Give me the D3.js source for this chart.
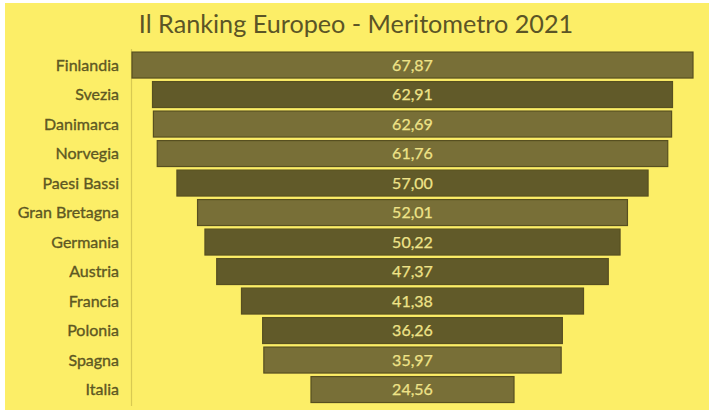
<!DOCTYPE html>
<html><head><meta charset="utf-8">
<script src="https://cdn.jsdelivr.net/npm/d3@7"></script>
<style>html,body{margin:0;padding:0;background:#fff;}svg{display:block;}</style>
</head><body>
<script>
const categories = ["Finlandia","Svezia","Danimarca","Norvegia","Paesi Bassi","Gran Bretagna","Germania","Austria","Francia","Polonia","Spagna","Italia"];
const values = [67.87,62.91,62.69,61.76,57.00,52.01,50.22,47.37,41.38,36.26,35.97,24.56];
const valueLabels = ["67,87","62,91","62,69","61,76","57,00","52,01","50,22","47,37","41,38","36,26","35,97","24,56"];
const title = "Il Ranking Europeo - Meritometro 2021";
const shade = ["l","d","l","l","d","l","d","d","d","d","l","l"];

const W = 709, H = 410;
const svg = d3.select("body").append("svg").attr("width", W).attr("height", H);
svg.append("rect").attr("x",5).attr("y",3).attr("width",W-5).attr("height",H-3).attr("fill","#fcee67");

const left = 132, right = 693;
const cx = (left + right) / 2;
const x = d3.scaleLinear().domain([0, d3.max(values)]).range([0, right - left]);
const y = d3.scaleBand().domain(categories).range([50.3, 404.3]).paddingInner(0.12).paddingOuter(0.06);

svg.append("line").attr("x1",131.5).attr("x2",131.5).attr("y1",49).attr("y2",406)
  .attr("stroke","#d8ca52").attr("stroke-width",1.2);

svg.append("text").attr("x",356).attr("y",33).attr("text-anchor","middle")
  .attr("font-family","Lato, 'Open Sans', sans-serif").attr("font-size",25.2)
  .attr("fill","#5b5526").text(title);

const fills = {l:"#786f37", d:"#615a29"};
svg.selectAll("rect.bar").data(categories).join("rect").attr("class","bar")
  .attr("x",(d,i)=>cx - x(values[i])/2).attr("y",d=>y(d))
  .attr("width",(d,i)=>x(values[i])).attr("height",y.bandwidth())
  .attr("fill",(d,i)=>fills[shade[i]]).attr("stroke","#574f20").attr("stroke-width",1.2);

svg.selectAll("text.val").data(categories).join("text").attr("class","val")
  .attr("x",cx).attr("y",d=>y(d)+y.bandwidth()/2).attr("dy","0.36em")
  .attr("text-anchor","middle").attr("font-family","Lato, 'Open Sans', sans-serif")
  .attr("font-size",16).attr("fill","#efe388").attr("stroke","#efe388").attr("stroke-width",0.25)
  .text((d,i)=>valueLabels[i]);

const yAxis = d3.axisLeft(y).tickSize(0).tickPadding(0);
const g = svg.append("g").attr("transform","translate(119,0)").call(yAxis);
g.select(".domain").remove();
g.selectAll("text").attr("font-family","Lato, 'Open Sans', sans-serif").attr("font-size",16)
  .attr("fill","#5e5823").attr("stroke","#5e5823").attr("stroke-width",0.35).attr("dy","0.36em");
</script>
</body></html>
